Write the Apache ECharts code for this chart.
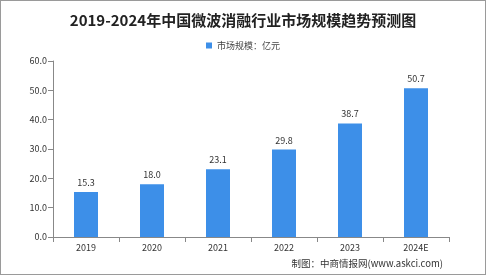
<!DOCTYPE html>
<html><head><meta charset="utf-8">
<script src="https://cdn.jsdelivr.net/npm/echarts@6/dist/echarts.min.js"></script>
<style>
html,body{margin:0;padding:0;background:#fff;}
#c{width:484px;height:273px;border:1px solid #9a9a9a;}
</style></head>
<body><div id="c"></div>
<script>
const categories = ['2019','2020','2021','2022','2023','2024E'];
const values = [15.3, 18.0, 23.1, 29.8, 38.7, 50.7];
const seriesName = '市场规模：亿元';
const titleText = '2019-2024年中国微波消融行业市场规模趋势预测图';
const sourceText = '制图：中商情报网(www.askci.com)';

const chart = echarts.init(document.getElementById('c'));
const font = '"Noto Sans CJK SC", "DejaVu Sans", sans-serif';
chart.setOption({
  animation: false,
  textStyle: {fontFamily: font},
  title: {
    text: titleText, left: 'center', top: 7,
    textStyle: {fontSize: 15, fontWeight: 'bold', color: '#222', fontFamily: font}
  },
  legend: {
    data: [seriesName], top: 35, left: 'center',
    itemWidth: 6, itemHeight: 6, itemGap: 2, icon: 'rect',
    textStyle: {fontSize: 9, color: '#444'}
  },
  graphic: [{
    type: 'text', right: 42, bottom: 6,
    style: {text: sourceText, fontSize: 9.5, fill: '#333', fontFamily: font}
  }],
  grid: {left: 52, right: 36, top: 60, bottom: 37},
  xAxis: {
    type: 'category', data: categories,
    axisLine: {lineStyle: {color: '#888'}},
    axisTick: {show: true, alignWithLabel: false, lineStyle: {color: '#888'}},
    axisLabel: {fontSize: 9, color: '#333', margin: 6}
  },
  yAxis: {
    type: 'value', min: 0, max: 60, interval: 10,
    axisLine: {show: true, lineStyle: {color: '#888'}},
    axisTick: {show: true, lineStyle: {color: '#888'}},
    splitLine: {show: false},
    axisLabel: {fontSize: 9, color: '#333', margin: 6, formatter: v => v.toFixed(1)}
  },
  series: [{
    name: seriesName, type: 'bar', data: values, barWidth: 24,
    itemStyle: {color: '#3d8fe8'},
    label: {show: true, position: 'top', fontSize: 9, color: '#333', formatter: p => p.value.toFixed(1)}
  }]
});
</script></body></html>
